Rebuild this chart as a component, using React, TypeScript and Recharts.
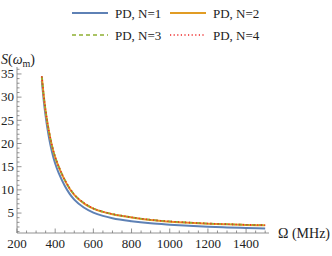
import { LineChart, Line, XAxis, YAxis, Legend, Label } from 'recharts';

// Ω in MHz
const omega = [330, 340, 350, 360, 375, 390, 400, 420, 450, 475, 500, 550, 600, 650, 700, 800, 900, 1000, 1100, 1200, 1300, 1400, 1500];
const sN1 = [33.5, 29.3, 25.9, 23.1, 19.7, 17.1, 15.7, 13.5, 10.9, 9.2, 7.9, 6.2, 5.1, 4.4, 3.9, 3.25, 2.8, 2.5, 2.25, 2.05, 1.9, 1.78, 1.68];
const sN2 = [34.4, 30.3, 27.0, 24.3, 21.0, 18.4, 17.0, 14.8, 12.1, 10.3, 8.9, 7.1, 5.95, 5.25, 4.75, 4.05, 3.5, 3.15, 2.9, 2.72, 2.57, 2.45, 2.35];
const sN3 = [34.5, 30.4, 27.1, 24.4, 21.1, 18.5, 17.1, 14.9, 12.2, 10.4, 9.0, 7.2, 6.0, 5.3, 4.8, 4.1, 3.55, 3.2, 2.95, 2.75, 2.6, 2.48, 2.38];
const sN4 = [34.5, 30.4, 27.1, 24.4, 21.1, 18.5, 17.1, 14.9, 12.2, 10.4, 9.0, 7.2, 6.0, 5.3, 4.8, 4.1, 3.55, 3.2, 2.95, 2.75, 2.6, 2.48, 2.38];

const xTicks = [200, 250, 300, 350, 400, 450, 500, 550, 600, 650, 700, 750, 800, 850, 900, 950, 1000, 1050, 1100, 1150, 1200, 1250, 1300, 1350, 1400, 1450, 1500];
const xLabels = [200, 400, 600, 800, 1000, 1200, 1400];
const yTicks = [1, 2, 3, 4, 5, 6, 7, 8, 9, 10, 11, 12, 13, 14, 15, 16, 17, 18, 19, 20, 21, 22, 23, 24, 25, 26, 27, 28, 29, 30, 31, 32, 33, 34, 35, 36];
const yLabels = [5, 10, 15, 20, 25, 30, 35];

const data = omega.map((w, i) => ({ w, n1: sN1[i], n2: sN2[i], n3: sN3[i], n4: sN4[i] }));

const series = [
  { key: 'n1', name: 'PD, N=1', color: '#5E81B5', dash: undefined as string | undefined, width: 2 },
  { key: 'n2', name: 'PD, N=2', color: '#E19C24', dash: undefined as string | undefined, width: 2 },
  { key: 'n3', name: 'PD, N=3', color: '#8FB032', dash: '4 3', width: 1.6 },
  { key: 'n4', name: 'PD, N=4', color: '#EE2A2A', dash: '1.2 2.4', width: 1.6 },
];

const FONT = 'Liberation Serif, Times New Roman, DejaVu Serif, serif';
const AXIS = '#777';
const TEXT = '#222';

const txt = { fontFamily: FONT };

const XTick = (props: any) => {
  const { x, y, payload } = props;
  const v = payload.value;
  const major = xLabels.includes(v);
  const base = y - 6;
  return (
    <g>
      <line x1={x} x2={x} y1={base} y2={base - (major ? 4.5 : 2.5)} stroke={AXIS} strokeWidth={0.8} />
      {major && (
        <text x={x} y={y} dy="0.71em" textAnchor="middle" fontSize={13} fill={TEXT} style={txt}>
          {v}
        </text>
      )}
    </g>
  );
};

const YTick = (props: any) => {
  const { x, y, payload } = props;
  const v = payload.value;
  const major = yLabels.includes(v);
  const base = x + 3;
  return (
    <g>
      <line x1={base} x2={base + (major ? 4.5 : 2.5)} y1={y} y2={y} stroke={AXIS} strokeWidth={0.8} />
      {major && (
        <text x={x} y={y} dy="0.33em" textAnchor="end" fontSize={13} fill={TEXT} style={txt}>
          {v}
        </text>
      )}
    </g>
  );
};

const LegendBox = () => {
  const cols = [72, 170];
  const rows = [13, 35];
  return (
    <svg width={332} height={46} style={{ display: 'block' }}>
      {series.map((s, i) => {
        const cx = cols[i % 2];
        const cy = rows[Math.floor(i / 2)];
        return (
          <g key={s.key}>
            <line x1={cx} x2={cx + 36} y1={cy} y2={cy} stroke={s.color} strokeWidth={s.width} strokeDasharray={s.dash} />
            <text x={cx + 43} y={cy} dy="0.35em" fontSize={13} fill={TEXT} style={txt}>
              {s.name}
            </text>
          </g>
        );
      })}
    </svg>
  );
};

const YTitle = (props: any) => {
  const vb = props.viewBox;
  return (
    <text x={vb.x + vb.width + 1} y={vb.y - 3} textAnchor="middle" fontSize={14} fill={TEXT} style={txt}>
      <tspan fontStyle="italic">S</tspan>
      <tspan>(</tspan>
      <tspan fontStyle="italic">ω</tspan>
      <tspan fontSize={10} dy={3}>m</tspan>
      <tspan dy={-3}>)</tspan>
    </text>
  );
};

const XTitle = (props: any) => {
  const vb = props.viewBox;
  return (
    <text x={vb.x + vb.width + 9} y={vb.y} dy="0.35em" textAnchor="start" fontSize={14} fill={TEXT} style={txt}>
      Ω (MHz)
    </text>
  );
};

export default function App() {
  return (
    <div style={{ position: 'absolute', left: 0, top: 0, width: 332, height: 256, background: '#fff', fontFamily: FONT }}>
      <LineChart width={332} height={256} data={data} margin={{ top: 21, right: 63, bottom: 0, left: 0 }} style={txt}>
        <Legend
          verticalAlign="top"
          align="left"
          height={46}
          wrapperStyle={{ top: 0, left: 0, width: 332, height: 46 }}
          content={() => <LegendBox />}
        />
        <XAxis
          dataKey="w"
          type="number"
          domain={[200, 1520]}
          ticks={xTicks}
          interval={0}
          allowDataOverflow
          height={23}
          tickSize={0}
          tickMargin={6}
          tickLine={false}
          axisLine={{ stroke: AXIS, strokeWidth: 0.8 }}
          tick={XTick}
        >
          <Label content={XTitle} />
        </XAxis>
        <YAxis
          type="number"
          domain={[0.7, 36.5]}
          ticks={yTicks}
          interval={0}
          allowDataOverflow
          width={17}
          tickSize={0}
          tickMargin={3}
          tickLine={false}
          axisLine={{ stroke: AXIS, strokeWidth: 0.8 }}
          tick={YTick}
        >
          <Label content={YTitle} />
        </YAxis>
        {series.map((s) => (
          <Line
            key={s.key}
            type="monotone"
            dataKey={s.key}
            name={s.name}
            stroke={s.color}
            strokeWidth={s.width}
            strokeDasharray={s.dash}
            dot={false}
            isAnimationActive={false}
          />
        ))}
      </LineChart>
    </div>
  );
}
